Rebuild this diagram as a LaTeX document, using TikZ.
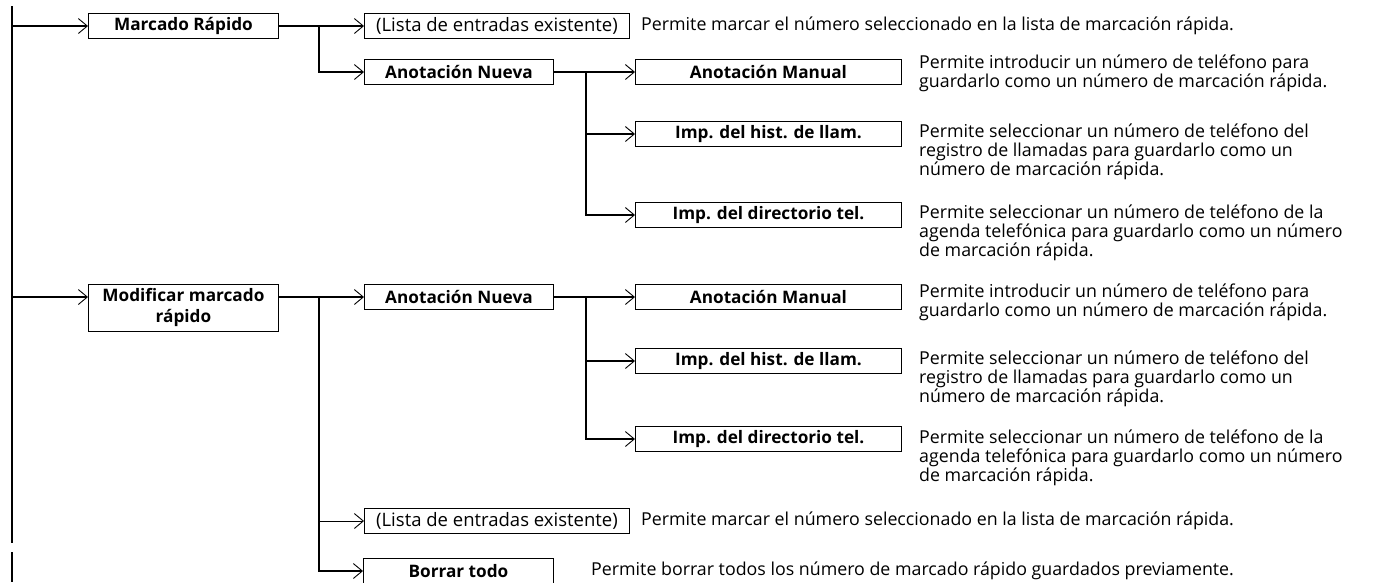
\documentclass[tikz,border=0pt]{standalone}
\usepackage{fontspec}
\setmainfont{Open Sans}
\usetikzlibrary{arrows.meta}
\newcommand\txtmanual{Permite introducir un número de teléfono para\\guardarlo como un número de marcación rápida.}
\newcommand\txthist{Permite seleccionar un número de teléfono del\\registro de llamadas para guardarlo como un\\número de marcación rápida.}
\newcommand\txtdir{Permite seleccionar un número de teléfono de la\\agenda telefónica para guardarlo como un número\\de marcación rápida.}
\newcommand\txtlista{Permite marcar el número seleccionado en la lista de marcación rápida.}
\begin{document}
\begin{tikzpicture}[x=1pt,y=-1pt,
  every node/.style={font=\fontsize{17.8}{19}\selectfont},
  menu/.style={draw,line width=.9pt,anchor=west,minimum height=25pt,inner sep=0pt,
    align=center,font=\fontsize{17.2}{21}\selectfont\bfseries},
  plain/.style={font=\fontsize{18.5}{21}\selectfont},
  desc/.style={anchor=west,inner sep=0pt,align=left},
  link/.style={line width=1.6pt},
  arr/.style={link,-{Straight Barb[length=9pt,width=15pt,line width=.9pt]}},
  thinarr/.style={arr,line width=.9pt}]
  \useasboundingbox (0,0) rectangle (1394,582);
  % spine
  \coordinate (s0) at (12,6);
  \coordinate (s1) at (12,543);
  \coordinate (s2) at (12,552);
  \coordinate (s3) at (12,582);
  \draw[link] (s0) -- (s1);
  \draw[link] (s2) -- (s3);
  % first level
  \node[menu,minimum width=190pt] (marcado) at (88,26) {Marcado Rápido};
  \node[menu,minimum width=190pt,minimum height=47pt] (modif) at (88,307.5) {Modificar marcado\\rápido};
  % marcado rapido
  \node[menu,plain,minimum width=265pt] (lista1) at (364,26) {(Lista de entradas existente)};
  \node[desc] (dlista1) at (641,26) {\txtlista};
  \coordinate (j1) at (319,26);
  \draw[arr] (s0 |- marcado.west) -- (marcado.west);
  \draw[arr] (marcado) -- (lista1);
  % the two anotacion nueva subtrees
  \foreach \t/\ya/\yb/\yc/\da/\db/\dc in {1/72/134/215/73/152/233, 2/297/361/439/302/379/458} {
    \node[menu,minimum width=189pt] (anot\t) at (364,\ya) {Anotación Nueva};
    \node[menu,minimum width=266pt] (man\t) at (635,\ya) {Anotación Manual};
    \node[menu,minimum width=266pt] (hist\t) at (635,\yb) {Imp. del hist. de llam.};
    \node[menu,minimum width=266pt] (dir\t) at (635,\yc) {Imp. del directorio tel.};
    \node[desc] (dman\t) at (919,\da) {\txtmanual};
    \node[desc] (dhist\t) at (919,\db) {\txthist};
    \node[desc] (ddir\t) at (919,\dc) {\txtdir};
    \coordinate (k\t) at (586,\ya);
    \draw[arr] (anot\t) -- (man\t);
    \draw[arr] (k\t) |- (hist\t.west);
    \draw[arr] (k\t) |- (dir\t.west);
  }
  \draw[arr] (j1) |- (anot1.west);
  % modificar marcado rapido
  \node[menu,plain,minimum width=265pt] (lista2) at (364,521) {(Lista de entradas existente)};
  \node[desc] (dlista2) at (641,521) {\txtlista};
  \node[menu,minimum width=190pt] (borrar) at (363,571) {Borrar todo};
  \node[desc] (dborrar) at (591,571) {Permite borrar todos los número de marcado rápido guardados previamente.};
  \coordinate (j3) at (319,297);
  \draw[arr] (s0 |- anot2.west) -- (modif.west |- anot2.west);
  \draw[arr] (modif.east |- anot2.west) -- (anot2.west);
  \draw[thinarr] (j3) |- (lista2.west);
  \draw[arr] (j3) |- (borrar.west);
\end{tikzpicture}
\end{document}
